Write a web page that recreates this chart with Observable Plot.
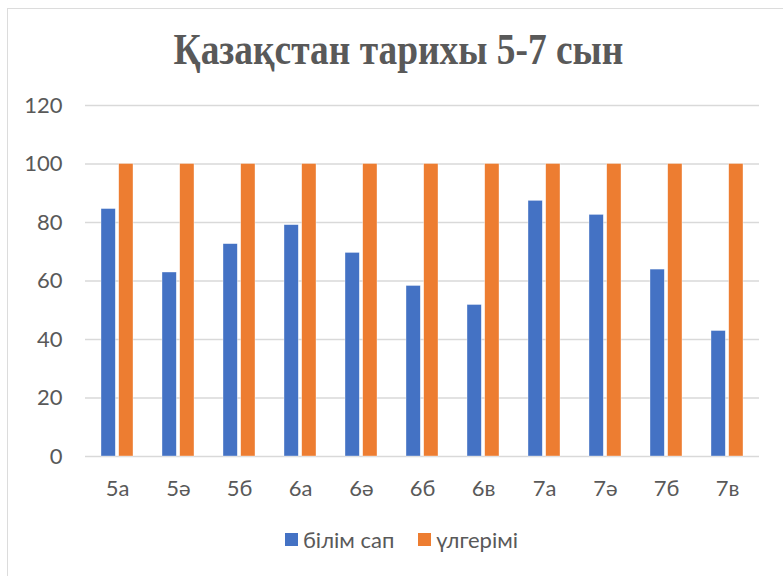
<!DOCTYPE html>
<html>
<head>
<meta charset="utf-8">
<script src="https://cdn.jsdelivr.net/npm/d3@7"></script>
<script src="https://cdn.jsdelivr.net/npm/@observablehq/plot@0.6"></script>
<style>
  html, body { margin: 0; padding: 0; background: #fff; }
  #wrap { position: relative; width: 783px; height: 576px; overflow: hidden; }
  #frame { position: absolute; left: 7px; top: 8px; width: 800px; height: 600px; border: 1.5px solid #dcdcdc; box-sizing: border-box; }
  #title { position: absolute; left: 0; width: 797px; top: 24px; text-align: center;
    font-family: "Liberation Serif", "DejaVu Serif", serif; font-weight: bold; font-size: 44px; color: #595959;
    transform: scaleX(0.85); transform-origin: 398px 0; white-space: nowrap; line-height: 52px; }
  #chart { position: absolute; left: 0; top: 90px; }
  #legend { position: absolute; top: 526px; left: 10px; width: 783px; display: flex; justify-content: center; gap: 0;
    font-family: Lato, "Open Sans", sans-serif; font-size: 22px; color: #595959; }
  .item { display: flex; align-items: center; margin: 0 12px; }
  .sw { width: 13px; height: 13px; margin-right: 5px; }
</style>
</head>
<body>
<div id="wrap">
  <div id="frame"></div>
  <div id="title"></div>
  <div id="chart"></div>
  <div id="legend"></div>
</div>
<script>
const title = "Қазақстан тарихы 5-7 сын";
const categories = ["5а", "5ә", "5б", "6а", "6ә", "6б", "6в", "7а", "7ә", "7б", "7в"];
const seriesNames = ["білім сап", "үлгерімі"];
const bilimSap = [84.6, 62.9, 72.6, 79.1, 69.6, 58.3, 51.8, 87.4, 82.6, 63.9, 42.9];
const ulgerimi = [100, 100, 100, 100, 100, 100, 100, 100, 100, 100, 100];
const colors = ["#4472C4", "#ED7D31"];
const yTicks = [0, 20, 40, 60, 80, 100, 120];

const blueData = categories.map((c, i) => ({cat: c, series: seriesNames[0], value: bilimSap[i]}));
const orangeData = categories.map((c, i) => ({cat: c, series: seriesNames[1], value: ulgerimi[i]}));

document.getElementById("title").textContent = title;

const pad = 17.7;
const chart = Plot.plot({
  width: 783,
  height: 411,
  marginLeft: 85,
  marginRight: 24,
  marginTop: 15,
  marginBottom: 45,
  style: {fontFamily: "Lato, 'Open Sans', sans-serif", fontSize: "22px", color: "#595959", background: "transparent"},
  x: {domain: categories, paddingInner: 0.48, paddingOuter: 0.24, label: null, tickSize: 0, tickPadding: 24},
  y: {domain: [0, 120], ticks: yTicks, label: null, tickSize: 0, tickPadding: 23},
  color: {domain: seriesNames, range: colors},
  marks: [
    Plot.gridY(yTicks, {stroke: "#d9d9d9", strokeOpacity: 1, strokeWidth: 1.5}),
    Plot.barY(blueData, {x: "cat", y: "value", fill: "series", insetRight: pad, stroke: "#fff", strokeWidth: 0.6, strokeOpacity: 0.6}),
    Plot.barY(orangeData, {x: "cat", y: "value", fill: "series", insetLeft: pad, stroke: "#fff", strokeWidth: 0.6, strokeOpacity: 0.6})
  ]
});
document.getElementById("chart").appendChild(chart);

const legend = document.getElementById("legend");
seriesNames.forEach((s, i) => {
  const it = document.createElement("div");
  it.className = "item";
  const sw = document.createElement("div");
  sw.className = "sw";
  sw.style.background = colors[i];
  const t = document.createElement("span");
  t.textContent = s;
  it.appendChild(sw); it.appendChild(t);
  legend.appendChild(it);
});
</script>
</body>
</html>
